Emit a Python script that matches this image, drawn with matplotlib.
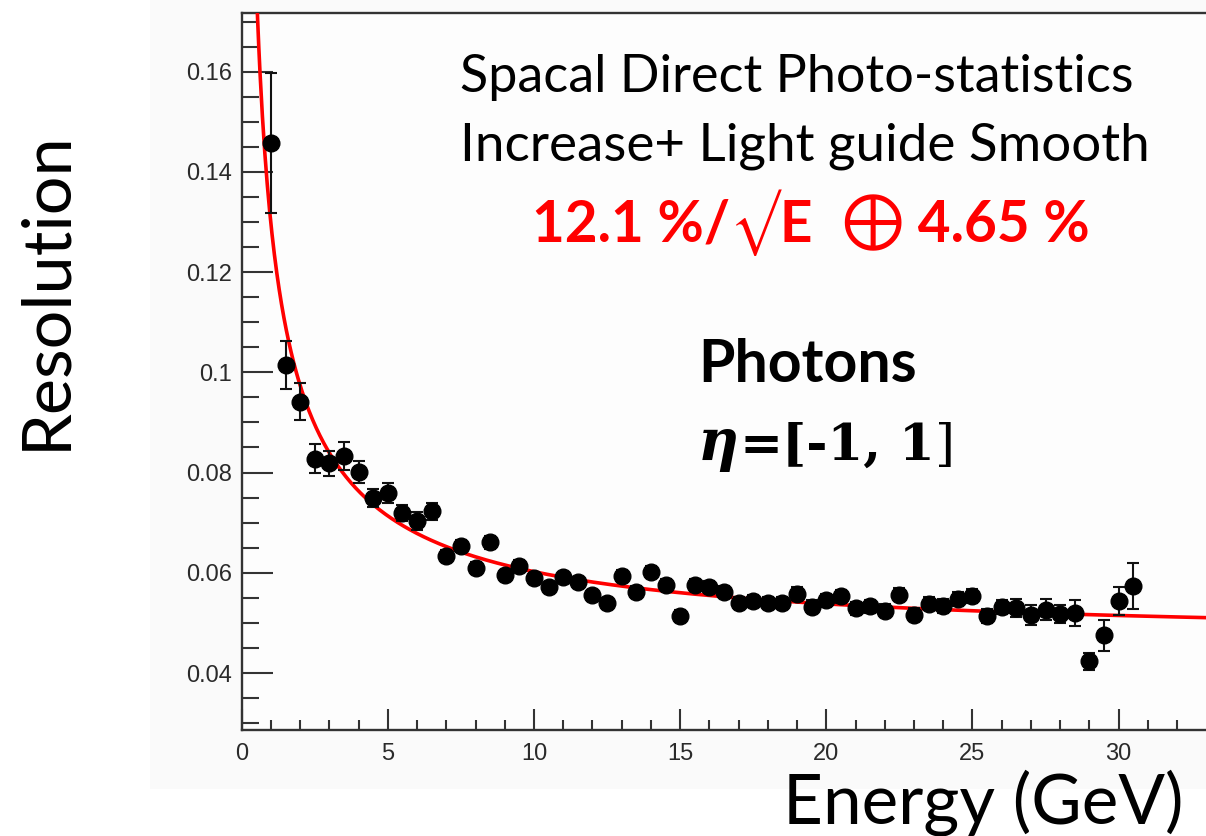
import numpy as np
import matplotlib
matplotlib.use("Agg")
import matplotlib.pyplot as plt
from matplotlib.patches import Rectangle
from matplotlib.ticker import MultipleLocator

# ---------------- data ----------------
energy = [1.0, 1.5, 2.0, 2.5, 3.0, 3.5, 4.0, 4.5, 5.0, 5.5,
          6.0, 6.5, 7.0, 7.5, 8.0, 8.5, 9.0, 9.5, 10.0, 10.5,
          11.0, 11.5, 12.0, 12.5, 13.0, 13.5, 14.0, 14.5, 15.0, 15.5,
          16.0, 16.5, 17.0, 17.5, 18.0, 18.5, 19.0, 19.5, 20.0, 20.5,
          21.0, 21.5, 22.0, 22.5, 23.0, 23.5, 24.0, 24.5, 25.0, 25.5,
          26.0, 26.5, 27.0, 27.5, 28.0, 28.5, 29.0, 29.5, 30.0, 30.5]
resolution = [0.1458, 0.1014, 0.0941, 0.0828, 0.0819, 0.0833, 0.0801, 0.0749, 0.0759, 0.0719,
              0.0703, 0.0723, 0.0634, 0.0654, 0.0609, 0.0661, 0.0595, 0.0614, 0.0589, 0.0571,
              0.0591, 0.0581, 0.0555, 0.0539, 0.0594, 0.0561, 0.0601, 0.0576, 0.0513, 0.0576,
              0.0571, 0.0561, 0.0539, 0.0544, 0.0539, 0.0539, 0.0558, 0.0532, 0.0545, 0.0553,
              0.0529, 0.0533, 0.0524, 0.0556, 0.0516, 0.0538, 0.0533, 0.0548, 0.0553, 0.0513,
              0.0531, 0.0530, 0.0515, 0.0526, 0.0517, 0.0519, 0.0423, 0.0475, 0.0543, 0.0574]
res_error = [0.0140, 0.0048, 0.0037, 0.0029, 0.0025, 0.0027, 0.0022, 0.0018, 0.0020, 0.0016,
             0.0018, 0.0017, 0.0012, 0.0012, 0.0012, 0.0013, 0.0011, 0.0011, 0.0011, 0.0011,
             0.0011, 0.0011, 0.0011, 0.0011, 0.0012, 0.0012, 0.0012, 0.0012, 0.0012, 0.0012,
             0.0012, 0.0012, 0.0012, 0.0012, 0.0012, 0.0012, 0.0013, 0.0013, 0.0013, 0.0013,
             0.0013, 0.0013, 0.0013, 0.0013, 0.0013, 0.0013, 0.0014, 0.0014, 0.0014, 0.0014,
             0.0014, 0.0018, 0.0020, 0.0021, 0.0018, 0.0026, 0.0017, 0.0031, 0.0028, 0.0046]

# fit parameters quoted on the chart (stochastic %, constant %)
stoch_term = 12.1
const_term = 4.65

x_ticks = [0, 5, 10, 15, 20, 25, 30]
x_tick_labels = ["0", "5", "10", "15", "20", "25", "30"]
y_ticks = [0.04, 0.06, 0.08, 0.1, 0.12, 0.14, 0.16]
y_tick_labels = ["0.04", "0.06", "0.08", "0.1", "0.12", "0.14", "0.16"]

title_line1 = "Spacal Direct Photo-statistics"
title_line2 = "Increase+ Light guide Smooth"
particle = "Photons"
x_label = "Energy (GeV)"
y_label = "Resolution"

# ---------------- figure ----------------
W, H = 1206, 836
fig = plt.figure(figsize=(W / 100, H / 100), dpi=100)
fig.patch.set_facecolor("white")

# faint grey canvas of the embedded ROOT plot
fig.patches.append(Rectangle((150 / W, 1 - 789 / H), (W - 150) / W, 789 / H,
                             transform=fig.transFigure, facecolor="#fafafa",
                             edgecolor="none", zorder=-5))

ax_left, ax_right, ax_top, ax_bot = 241.7, 1206, 13, 730
ax = fig.add_axes([ax_left / W, 1 - ax_bot / H, (ax_right - ax_left) / W, (ax_bot - ax_top) / H])
ax.set_zorder(1)
ax.set_facecolor("#fdfdfd")

x_max = (ax_right - ax_left) / 29.23
ax.set_xlim(0, x_max)
ax.set_ylim(0.02863, 0.1717)

# fit curve
e_curve = np.linspace(0.3, x_max, 800)
fit = np.sqrt((stoch_term / 100) ** 2 / e_curve + (const_term / 100) ** 2)
ax.plot(e_curve, fit, color="#ff0000", lw=2.6, zorder=3, solid_joinstyle="round")

# data
ax.errorbar(energy, resolution, yerr=res_error, fmt="o", color="black",
            markersize=12, ecolor="#111111", elinewidth=1.5, capsize=4, capthick=1.5,
            zorder=4)

# axes styling (ROOT like)
ax.spines["right"].set_visible(False)
for side in ["left", "bottom", "top"]:
    ax.spines[side].set_linewidth(1.7)
    ax.spines[side].set_color("#333333")

tick_font = ["Liberation Sans", "DejaVu Sans"]
ax.set_xticks(x_ticks)
ax.set_xticklabels(x_tick_labels, fontsize=17, family=tick_font, color="#2a2a2a")
ax.xaxis.set_minor_locator(MultipleLocator(1))
ax.set_yticks(y_ticks)
ax.set_yticklabels(y_tick_labels, fontsize=17, family=tick_font, color="#2a2a2a")
ax.yaxis.set_minor_locator(MultipleLocator(0.005))

ax.tick_params(axis="y", which="major", direction="in", length=22, width=1.5,
               color="#333333", pad=7)
ax.tick_params(axis="y", which="minor", direction="in", length=12, width=1.5, color="#333333")
ax.tick_params(axis="x", which="major", direction="in", length=15, width=1.5,
               color="#333333", pad=9)
ax.tick_params(axis="x", which="minor", direction="in", length=7.5, width=1.5, color="#333333")
ax.tick_params(top=False, right=False, which="both")

# ---------------- text helpers ----------------
fig.canvas.draw()
renderer = fig.canvas.get_renderer()


def chain(pieces, x0, x1, ybase, base_size=40):
    """pieces: list of (text, kwargs, size_factor). Laid out left to right, scaled to width."""
    def layout(size):
        arts = []
        x = x0
        for s, kw, f in pieces:
            t = fig.text(x / W, 1 - ybase / H, s, ha="left", va="baseline",
                         fontsize=size * f, zorder=5, **kw)
            bb = t.get_window_extent(renderer)
            x = bb.x1
            arts.append(t)
        return arts, x - x0
    arts, w = layout(base_size)
    for a in arts:
        a.remove()
    size = base_size * (x1 - x0) / w
    arts, w = layout(size)
    return arts


sans = ["Lato", "DejaVu Sans"]
stix = ["STIXGeneral", "DejaVu Sans"]
chain([(title_line1, dict(family=sans, color="black"), 1.0)], 460, 1133, 92)
chain([(title_line2, dict(family=sans, color="black"), 1.0)], 460, 1148, 160)

red = "#ff0000"
chain([(f"{stoch_term} %/", dict(family=sans, weight="bold", color=red), 1.0),
       ("\u221a", dict(family=stix, weight="normal", color=red), 0.95),
       ("E  ", dict(family=sans, weight="bold", color=red), 1.0),
       ("\u2295", dict(family=stix, weight="normal", color=red), 1.35),
       (f" {const_term} %", dict(family=sans, weight="bold", color=red), 1.0)],
      532, 1090, 242)

chain([(particle, dict(family=sans, weight="bold", color="black"), 1.0)], 698, 917, 382)

serif = ["DejaVu Serif"]
chain([("\u03b7", dict(family=serif, weight="bold", style="italic", color="black"), 1.1),
       ("=", dict(family=serif, weight="bold", color="black"), 1.0),
       ("[-1, 1", dict(family=serif, weight="bold", color="black"), 1.0),
       ("]", dict(family=serif, weight="normal", color="black"), 1.0)],
      698, 955, 460)

# axis titles as big slide text
t_y = fig.text(77 / W, 1 - 290 / H, y_label, rotation=90, ha="right", va="center",
               family=sans, fontsize=40, color="black", zorder=5)
bb = t_y.get_window_extent(renderer)
t_y.set_fontsize(40 * (450 - 131) / bb.height)

chain([(x_label, dict(family=sans, color="black"), 1.0)], 783, 1183, 823)

fig.savefig("out.png", dpi=100)
